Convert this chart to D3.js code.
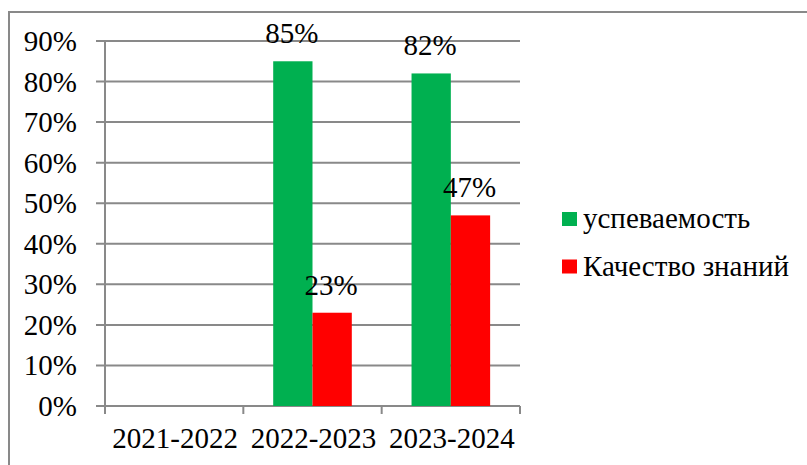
<!DOCTYPE html>
<html>
<head>
<meta charset="utf-8">
<script src="https://cdn.jsdelivr.net/npm/d3@7"></script>
<style>
body { margin: 0; background: #fff; }
svg { display: block; }
text { font-family: 'Liberation Serif', 'Times New Roman', serif; }
</style>
</head>
<body>
<svg width="807" height="465"></svg>
<script>
var svg = d3.select('svg');
var width = 807;
var height = 465;

var years = ['2021-2022', '2022-2023', '2023-2024'];
var seriesNames = ['успеваемость', 'Качество знаний'];
var uspev = [null, 0.85, 0.82];
var kachestvo = [null, 0.23, 0.47];
var yTicks = [0, 0.1, 0.2, 0.3, 0.4, 0.5, 0.6, 0.7, 0.8, 0.9];
var colors = ['#00B050', '#FF0000'];

var fontSize = '29px';
var gridColor = '#898989';

var plotLeft = 105, plotRight = 520, plotTop = 41, plotBottom = 406;

// outer frame
svg.append('rect')
.attr('x', 9).attr('y', 12)
.attr('width', 820).attr('height', 480)
.attr('fill', 'none')
.attr('stroke', gridColor)
.attr('stroke-width', 2);

var x = d3.scaleBand()
.domain(years)
.range([plotLeft, plotRight])
.paddingInner(0)
.paddingOuter(0);

var x1 = d3.scaleBand()
.domain(seriesNames)
.range([0, x.bandwidth()])
.paddingInner(0)
.paddingOuter(0.76);

var y = d3.scaleLinear()
.domain([0, 0.9])
.range([plotBottom, plotTop]);

// gridlines with outward tick
svg.append('g')
.selectAll('line')
.data(yTicks)
.enter()
.append('line')
.attr('x1', plotLeft - 9)
.attr('x2', plotRight)
.attr('y1', function(d){ return y(d); })
.attr('y2', function(d){ return y(d); })
.attr('stroke', gridColor)
.attr('stroke-width', 2);

// y axis line
svg.append('line')
.attr('x1', plotLeft).attr('x2', plotLeft)
.attr('y1', plotTop).attr('y2', plotBottom + 8)
.attr('stroke', gridColor)
.attr('stroke-width', 2);

// category ticks
svg.append('g')
.selectAll('line')
.data(years)
.enter()
.append('line')
.attr('x1', function(d){ return x(d) + x.bandwidth(); })
.attr('x2', function(d){ return x(d) + x.bandwidth(); })
.attr('y1', plotBottom)
.attr('y2', plotBottom + 8)
.attr('stroke', gridColor)
.attr('stroke-width', 2);

// y labels
svg.append('g')
.selectAll('text')
.data(yTicks)
.enter()
.append('text')
.attr('x', 77)
.attr('y', function(d){ return y(d) + 10; })
.attr('text-anchor', 'end')
.attr('font-size', fontSize)
.attr('fill', '#000')
.text(function(d){ return Math.round(d * 100) + '%'; });

// x labels
svg.append('g')
.selectAll('text')
.data(years)
.enter()
.append('text')
.attr('x', function(d){ return x(d) + x.bandwidth() / 2 + 1; })
.attr('y', 448)
.attr('text-anchor', 'middle')
.attr('font-size', fontSize)
.attr('fill', '#000')
.text(function(d){ return d; });

var barData = [];
years.forEach(function(yr, i){
	[uspev, kachestvo].forEach(function(arr, s){
		if (arr[i] !== null) {
			barData.push({year: yr, series: seriesNames[s], value: arr[i], color: colors[s]});
		}
	});
});

svg.append('g')
.selectAll('rect')
.data(barData)
.enter()
.append('rect')
.attr('x', function(d){ return x(d.year) + x1(d.series); })
.attr('y', function(d){ return y(d.value); })
.attr('width', x1.bandwidth())
.attr('height', function(d){ return plotBottom - y(d.value); })
.attr('fill', function(d){ return d.color; });

svg.append('g')
.selectAll('text')
.data(barData)
.enter()
.append('text')
.attr('x', function(d){ return x(d.year) + x1(d.series) + x1.bandwidth() / 2 - 1; })
.attr('y', function(d){ return y(d.value) - 18; })
.attr('text-anchor', 'middle')
.attr('font-size', fontSize)
.attr('fill', '#000')
.text(function(d){ return Math.round(d.value * 100) + '%'; });

// legend
var legend = svg.append('g')
.selectAll('g')
.data(seriesNames)
.enter()
.append('g')
.attr('transform', function(d, i){ return 'translate(562,' + (212 + i * 47.5) + ')'; });

legend.append('rect')
.attr('width', 15)
.attr('height', 14)
.attr('fill', function(d, i){ return colors[i]; });

legend.append('text')
.attr('x', 21)
.attr('y', 16)
.attr('font-size', fontSize)
.attr('fill', '#000')
.text(function(d){ return d; });
</script>
</body>
</html>
